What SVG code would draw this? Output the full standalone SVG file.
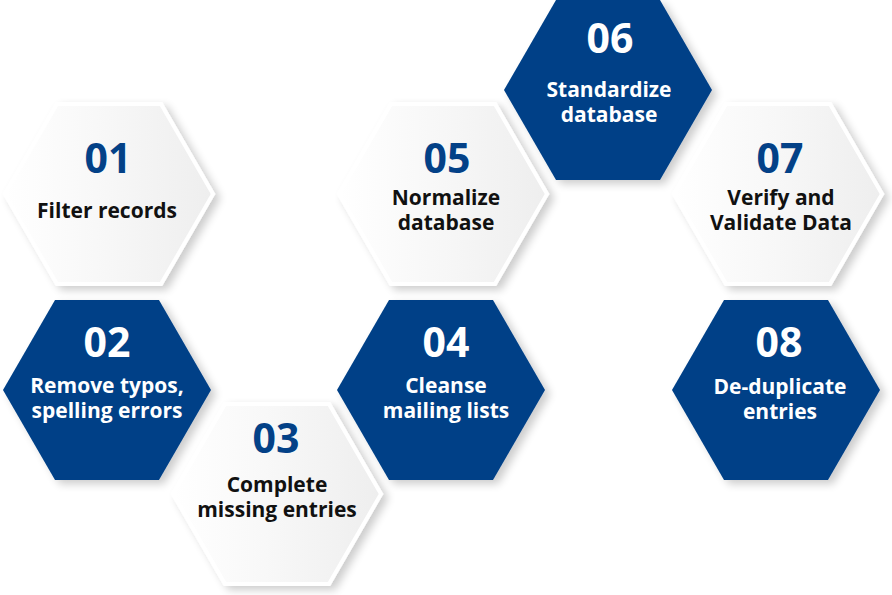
<svg xmlns="http://www.w3.org/2000/svg" xmlns:xlink="http://www.w3.org/1999/xlink" width="892" height="595" viewBox="0 0 892 595">
  <defs>
    <polygon id="hex" points="-104,0 -52,-90 52,-90 104,0 52,90 -52,90"/>
    <linearGradient id="lightFill" x1="0" y1="0" x2="1" y2="0">
      <stop offset="0" stop-color="#ffffff"/>
      <stop offset="0.5" stop-color="#f7f7f7"/>
      <stop offset="1" stop-color="#eeeeee"/>
    </linearGradient>
    <filter id="shadow" x="-20%" y="-20%" width="140%" height="140%">
      <feGaussianBlur in="SourceAlpha" stdDeviation="4"/>
      <feOffset dx="5" dy="4" result="b"/>
      <feComponentTransfer><feFuncA type="linear" slope="0.2"/></feComponentTransfer>
      <feMerge><feMergeNode/><feMergeNode in="SourceGraphic"/></feMerge>
    </filter>
  </defs>
  <style>
    .light { fill: url(#lightFill); stroke: #ffffff; stroke-width: 4; filter: url(#shadow); }
    .dark { fill: #034187; filter: url(#shadow); }
    text { font-family: "Open Sans", "Liberation Sans", sans-serif; font-weight: 700; text-anchor: middle; }
    .num { font-size: 41px; }
    .lbl { font-size: 21px; }
    .light-num { fill: #034187; }
    .light-lbl { fill: #111111; }
    .dark-t { fill: #ffffff; }
  </style>
  <rect width="892" height="595" fill="#ffffff"/>

  <g id="node-01">
    <use xlink:href="#hex" href="#hex" class="light" transform="translate(109,194)"/>
    <text class="num light-num" x="108" y="173">01</text>
    <text class="lbl light-lbl" x="107" y="218">Filter records</text>
  </g>

  <g id="node-05">
    <use xlink:href="#hex" href="#hex" class="light" transform="translate(443,194)"/>
    <text class="num light-num" x="447" y="173">05</text>
    <text class="lbl light-lbl" x="446" y="205">Normalize</text>
    <text class="lbl light-lbl" x="446" y="230">database</text>
  </g>

  <g id="node-07">
    <use xlink:href="#hex" href="#hex" class="light" transform="translate(778,194)"/>
    <text class="num light-num" x="780" y="173">07</text>
    <text class="lbl light-lbl" x="781" y="205">Verify and</text>
    <text class="lbl light-lbl" x="781" y="230">Validate Data</text>
  </g>

  <g id="node-03">
    <use xlink:href="#hex" href="#hex" class="light" transform="translate(277,494)"/>
    <text class="num light-num" x="276" y="453">03</text>
    <text class="lbl light-lbl" x="277" y="492">Complete</text>
    <text class="lbl light-lbl" x="277" y="517">missing entries</text>
  </g>

  <g id="node-02">
    <use xlink:href="#hex" href="#hex" class="dark" transform="translate(107,390)"/>
    <text class="num dark-t" x="107" y="357">02</text>
    <text class="lbl dark-t" x="107" y="393">Remove typos,</text>
    <text class="lbl dark-t" x="107" y="418">spelling errors</text>
  </g>

  <g id="node-04">
    <use xlink:href="#hex" href="#hex" class="dark" transform="translate(441,390)"/>
    <text class="num dark-t" x="446" y="357">04</text>
    <text class="lbl dark-t" x="446" y="393">Cleanse</text>
    <text class="lbl dark-t" x="446" y="418">mailing lists</text>
  </g>

  <g id="node-06">
    <use xlink:href="#hex" href="#hex" class="dark" transform="translate(608,90)"/>
    <text class="num dark-t" x="610" y="53">06</text>
    <text class="lbl dark-t" x="609" y="97">Standardize</text>
    <text class="lbl dark-t" x="609" y="122">database</text>
  </g>

  <g id="node-08">
    <use xlink:href="#hex" href="#hex" class="dark" transform="translate(776,390)"/>
    <text class="num dark-t" x="779" y="357">08</text>
    <text class="lbl dark-t" x="780" y="394">De-duplicate</text>
    <text class="lbl dark-t" x="780" y="419">entries</text>
  </g>

  <g id="connectors"/>
</svg>
